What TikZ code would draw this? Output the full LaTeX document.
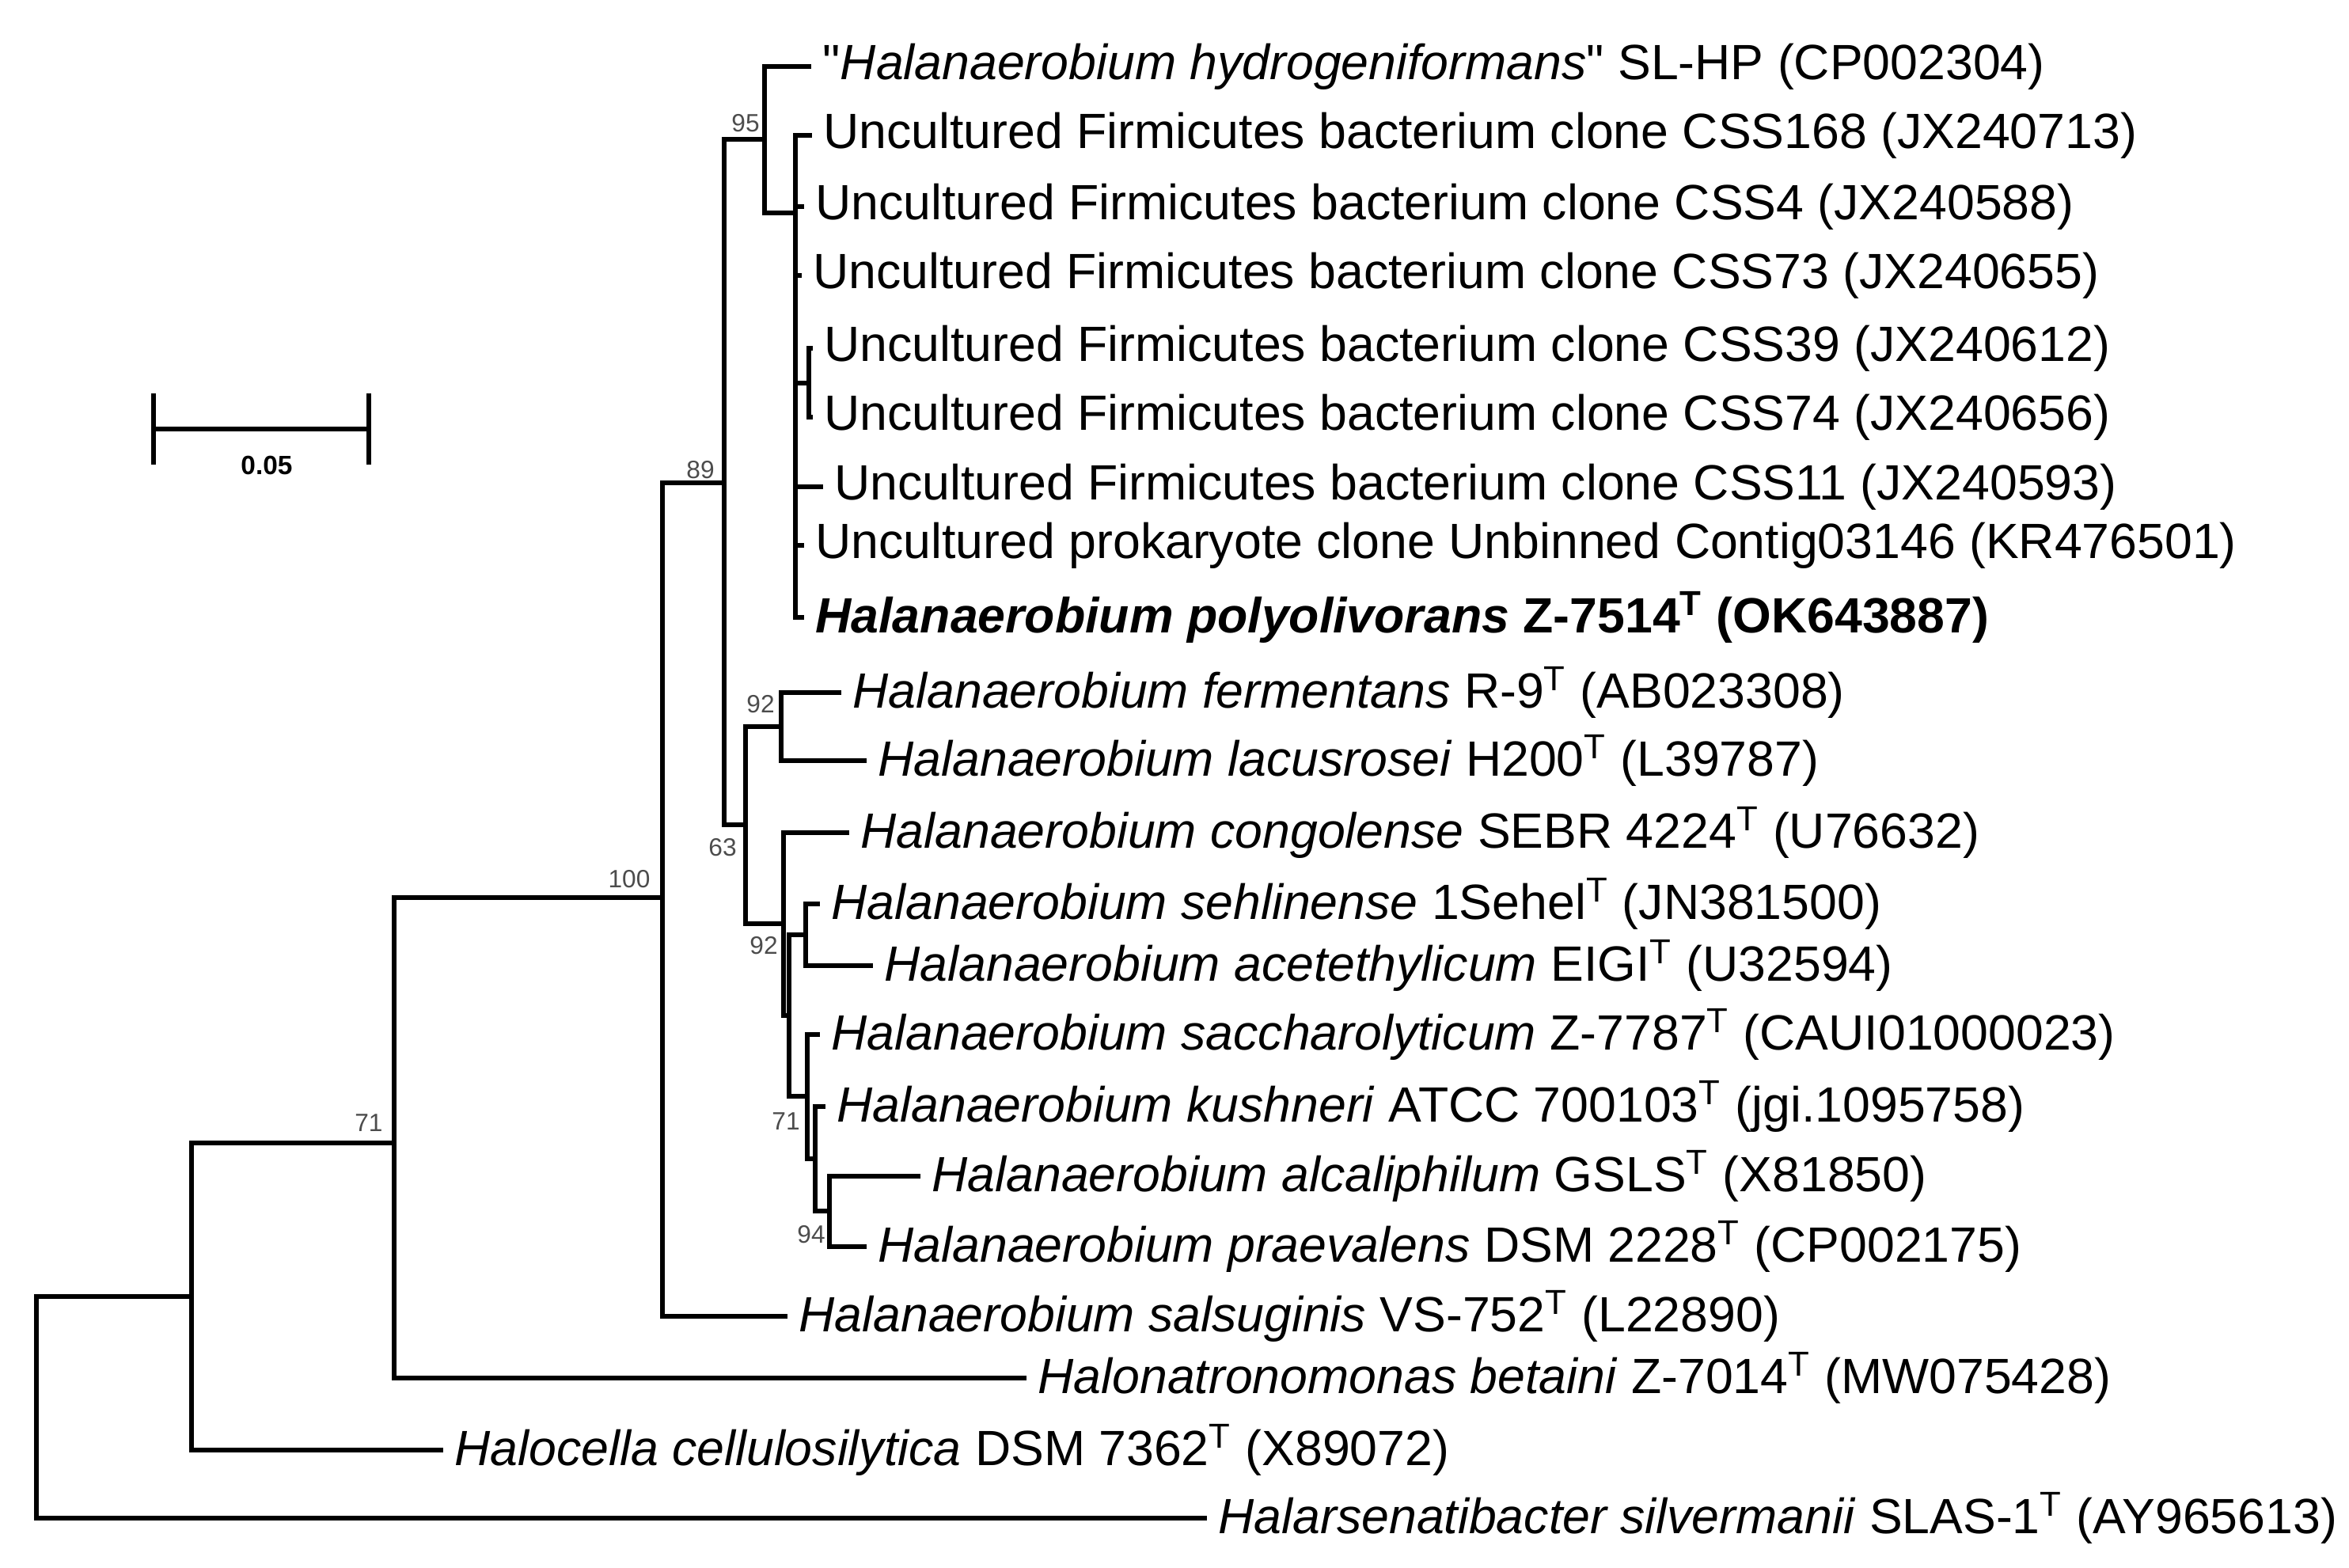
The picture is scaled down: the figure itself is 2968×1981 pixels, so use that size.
\documentclass[tikz,border=0pt]{standalone}
\usepackage{fontspec}
\setmainfont{Liberation Sans}
\newfontfamily\plainq{Liberation Sans}
\begin{document}
\begin{tikzpicture}[x=0.01cm,y=-0.01cm,
  br/.style={line width=1.7pt,line cap=rect},
  lf/.style={anchor=west,inner sep=0pt,xshift=12\pgflinewidth,font=\fontsize{17.8}{20}\selectfont},
  bs/.style={font=\fontsize{9}{10}\selectfont,text=black!70,inner sep=0pt}]
\useasboundingbox (0,0) rectangle (2968,1981);
% leaf ends
\coordinate (l1) at (1022,84);
\coordinate (l2) at (1023,171);
\coordinate (l3) at (1013,261);
\coordinate (l4) at (1010,348);
\coordinate (l5) at (1024,440);
\coordinate (l6) at (1024,527);
\coordinate (l7) at (1037,615);
\coordinate (l8) at (1013,689);
\coordinate (l9) at (1013,780);
\coordinate (l10) at (1060,875);
\coordinate (l11) at (1092,961);
\coordinate (l12) at (1070,1052);
\coordinate (l13) at (1033,1142);
\coordinate (l14) at (1100,1220);
\coordinate (l15) at (1033,1307);
\coordinate (l16) at (1040,1398);
\coordinate (l17) at (1160,1486);
\coordinate (l18) at (1092,1575);
\coordinate (l19) at (992,1663);
\coordinate (l20) at (1294,1741);
\coordinate (l21) at (557,1832);
\coordinate (l22) at (1522,1918);
% internal nodes
\coordinate (nB) at (1005,269);
\coordinate (nC) at (1022,484);
\coordinate (nH) at (966,176);
\coordinate (n95) at (915,610);
\coordinate (nF) at (987,918);
\coordinate (nS2) at (1018,1181);
\coordinate (n94) at (1048,1530);
\coordinate (nK) at (1030,1464);
\coordinate (n71b) at (1020,1385);
\coordinate (nX) at (997,1283);
\coordinate (n92b) at (990,1167);
\coordinate (n63) at (942,1042);
\coordinate (n89) at (837,1134);
\coordinate (n100) at (498,1444);
\coordinate (n71) at (242,1638);
\coordinate (root) at (46,1918);
% branches
\draw[br] (l2) -| (nB) |- (l9);
\draw[br] (nB |- l3) -- (l3);
\draw[br] (nB |- l4) -- (l4);
\draw[br] (nB |- nC) -- (nC);
\draw[br] (l5) -| (nC) |- (l6);
\draw[br] (nB |- l7) -- (l7);
\draw[br] (nB |- l8) -- (l8);
\draw[br] (l1) -| (nH |- l1) |- (nB);
\draw[br] (nH) -| (n95 |- nH) |- (n63);
\draw[br] (n95) -- (n89 |- n95);
\draw[br] (l10) -| (nF) |- (l11);
\draw[br] (nF) -| (n63) |- (n92b);
\draw[br] (l12) -| (n92b) |- (nX);
\draw[br] (l13) -| (nS2) |- (l14);
\draw[br] (nS2) -| (nX) |- (n71b);
\draw[br] (l15) -| (n71b) |- (nK);
\draw[br] (l16) -| (nK) |- (n94);
\draw[br] (l17) -| (n94) |- (l18);
\draw[br] (n89 |- n95) -- (n89 |- l19) -- (l19);
\draw[br] (n89) -- (n100 |- n89) |- (l20);
\draw[br] (n100) -- (n71 |- n100) |- (l21);
\draw[br] (n71) -- (root |- n71) -- (root) -- (l22);
% labels
\node[lf] (t1) at (l1) {{\plainq"}\textit{Halanaerobium hydrogeniformans}{\plainq"} SL-HP (CP002304)};
\node[lf] (t2) at (l2) {Uncultured Firmicutes bacterium clone CSS168 (JX240713)};
\node[lf] (t3) at (l3) {Uncultured Firmicutes bacterium clone CSS4 (JX240588)};
\node[lf] (t4) at (l4) {Uncultured Firmicutes bacterium clone CSS73 (JX240655)};
\node[lf] (t5) at (l5) {Uncultured Firmicutes bacterium clone CSS39 (JX240612)};
\node[lf] (t6) at (l6) {Uncultured Firmicutes bacterium clone CSS74 (JX240656)};
\node[lf] (t7) at (l7) {Uncultured Firmicutes bacterium clone CSS11 (JX240593)};
\node[lf] (t8) at (l8) {Uncultured prokaryote clone Unbinned Contig03146 (KR476501)};
\node[lf] (t9) at (l9) {\bfseries\textit{Halanaerobium polyolivorans} Z-7514\textsuperscript{T} (OK643887)};
\node[lf] (t10) at (l10) {\textit{Halanaerobium fermentans} R-9\textsuperscript{T} (AB023308)};
\node[lf] (t11) at (l11) {\textit{Halanaerobium lacusrosei} H200\textsuperscript{T} (L39787)};
\node[lf] (t12) at (l12) {\textit{Halanaerobium congolense} SEBR 4224\textsuperscript{T} (U76632)};
\node[lf] (t13) at (l13) {\textit{Halanaerobium sehlinense} 1Sehel\textsuperscript{T} (JN381500)};
\node[lf] (t14) at (l14) {\textit{Halanaerobium acetethylicum} EIGI\textsuperscript{T} (U32594)};
\node[lf] (t15) at (l15) {\textit{Halanaerobium saccharolyticum} Z-7787\textsuperscript{T} (CAUI01000023)};
\node[lf] (t16) at (l16) {\textit{Halanaerobium kushneri} ATCC 700103\textsuperscript{T} (jgi.1095758)};
\node[lf] (t17) at (l17) {\textit{Halanaerobium alcaliphilum} GSLS\textsuperscript{T} (X81850)};
\node[lf] (t18) at (l18) {\textit{Halanaerobium praevalens} DSM 2228\textsuperscript{T} (CP002175)};
\node[lf] (t19) at (l19) {\textit{Halanaerobium salsuginis} VS-752\textsuperscript{T} (L22890)};
\node[lf] (t20) at (l20) {\textit{Halonatronomonas betaini} Z-7014\textsuperscript{T} (MW075428)};
\node[lf] (t21) at (l21) {\textit{Halocella cellulosilytica} DSM 7362\textsuperscript{T} (X89072)};
\node[lf] (t22) at (l22) {\textit{Halarsenatibacter silvermanii} SLAS-1\textsuperscript{T} (AY965613)};
% bootstrap
\node[bs] (b95) at (942,156) {95};
\node[bs] (b89) at (885,594) {89};
\node[bs] (b92) at (961,890) {92};
\node[bs] (b63) at (913,1071) {63};
\node[bs] (b92b) at (965,1195) {92};
\node[bs] (b71b) at (993,1417) {71};
\node[bs] (b94) at (1025,1560) {94};
\node[bs] (b100) at (795,1111) {100};
\node[bs] (b71) at (466,1419) {71};
% scale bar
\coordinate (s1) at (194,542);
\coordinate (s2) at (466,542);
\draw[br] (s1) -- (s2);
\draw[br] ([yshift=-12]s1) -- ([yshift=12]s1);
\draw[br] ([yshift=-12]s2) -- ([yshift=12]s2);
\node[font=\fontsize{9.5}{11}\selectfont\bfseries,inner sep=0pt] (sl) at (337,588) {0.05};
\end{tikzpicture}
\end{document}
